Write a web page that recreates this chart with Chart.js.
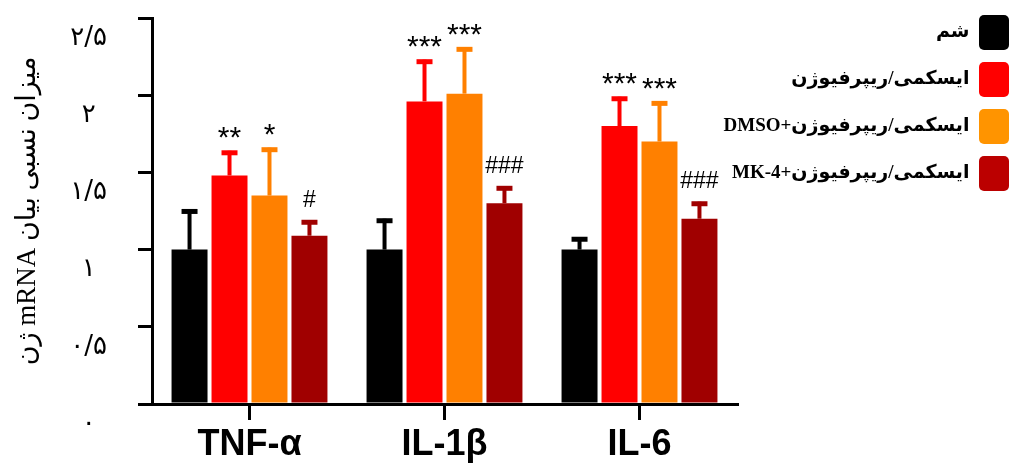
<!DOCTYPE html>
<html>
<head>
<meta charset="utf-8">
<script src="https://cdn.jsdelivr.net/npm/chart.js@4.4.0/dist/chart.umd.min.js"></script>
<style>
    body { margin: 0; background: #fff; }
    #wrap { width: 1011px; height: 466px; }
</style>
</head>
<body>
<div id="wrap"><canvas id="chart" dir="rtl"></canvas></div>
<script>
// ==================== DATA ====================
const categories = ['TNF-α', 'IL-1β', 'IL-6'];
const groupNames = ['شم', 'ایسکمی/ریپرفیوژن', 'ایسکمی/ریپرفیوژن+DMSO', 'ایسکمی/ریپرفیوژن+MK-4'];
const yTickLabels = ['۰', '۰/۵', '۱', '۱/۵', '۲', '۲/۵'];
const yTitle = 'میزان نسبی بیان mRNA ژن';

const shamMean = [1.00, 1.00, 1.00];
const shamSem  = [0.26, 0.20, 0.08];
const shamSig  = ['', '', ''];

const irMean = [1.48, 1.96, 1.80];
const irSem  = [0.16, 0.27, 0.19];
const irSig  = ['**', '***', '***'];

const dmsoMean = [1.35, 2.01, 1.70];
const dmsoSem  = [0.31, 0.30, 0.26];
const dmsoSig  = ['*', '***', '***'];

const mk4Mean = [1.09, 1.30, 1.20];
const mk4Sem  = [0.10, 0.11, 0.11];
const mk4Sig  = ['#', '###', '###'];

const colors = ['#000000', '#ff0000', '#ff8000', '#a00000'];
const legendColors = ['#000000', '#ff0000', '#ff9400', '#bb0000'];

// ==================== PLUGINS ====================
// error bars (upper only) + significance marks
const errorBars = {
    id: 'errorBars',
    afterDatasetsDraw(chart) {
        const ctx = chart.ctx;
        const yScale = chart.scales.y;
        chart.data.datasets.forEach((ds, i) => {
            chart.getDatasetMeta(i).data.forEach((bar, j) => {
                const top = yScale.getPixelForValue(ds.data[j] + ds.sem[j]);
                ctx.save();
                ctx.strokeStyle = ds.backgroundColor;
                ctx.lineWidth = 4;
                ctx.beginPath();
                ctx.moveTo(bar.x, bar.y);
                ctx.lineTo(bar.x, top);
                ctx.stroke();
                ctx.lineWidth = 5;
                ctx.beginPath();
                ctx.moveTo(bar.x - 8, top + 2);
                ctx.lineTo(bar.x + 8, top + 2);
                ctx.stroke();
                const s = ds.sig[j];
                if (s) {
                    const hash = s[0] === '#';
                    ctx.fillStyle = '#000';
                    ctx.font = hash ? '23px "Liberation Sans"' : '30px "Liberation Sans"';
                    ctx.textAlign = 'center';
                    ctx.textBaseline = 'middle';
                    ctx.fillText(s, bar.x, top - (hash ? 20 : 12));
                }
                ctx.restore();
            });
        });
    }
};

// legend sits a bit higher and wider than the layout gives it
const legendNudge = {
    id: 'legendNudge',
    afterLayout(chart) {
        const lg = chart.legend;
        lg.left = 710; lg.right = 1021; lg.width = lg.right - lg.left;
        lg.top -= 15; lg.bottom -= 15;
    }
};

const makeSet = (i, data, sem, sig) => ({
    label: groupNames[i],
    data: data,
    sem: sem,
    sig: sig,
    backgroundColor: colors[i],
    borderWidth: 0,
    barPercentage: 0.9,
    categoryPercentage: 0.82
});

// ==================== CHART ====================
new Chart(document.getElementById('chart'), {
    type: 'bar',
    data: {
        labels: categories,
        datasets: [
            makeSet(0, shamMean, shamSem, shamSig),
            makeSet(1, irMean, irSem, irSig),
            makeSet(2, dmsoMean, dmsoSem, dmsoSig),
            makeSet(3, mk4Mean, mk4Sem, mk4Sig)
        ]
    },
    options: {
        responsive: true,
        maintainAspectRatio: false,
        animation: false,
        layout: { padding: { top: 18, right: 0, bottom: 0, left: 0 } },
        plugins: {
            tooltip: { enabled: false },
            legend: {
                position: 'right',
                align: 'start',
                maxWidth: 274,
                rtl: true,
                textDirection: 'rtl',
                labels: {
                    color: '#000',
                    boxWidth: 30,
                    boxHeight: 35,
                    padding: 12,
                    useBorderRadius: true,
                    borderRadius: 5,
                    font: { family: '"Liberation Serif", "DejaVu Sans"', size: 19, weight: 'bold' },
                    generateLabels: (chart) =>
                        Chart.defaults.plugins.legend.labels.generateLabels(chart)
                            .map((l, i) => ({ ...l, fillStyle: legendColors[i] }))
                }
            }
        },
        scales: {
            x: {
                grid: { drawOnChartArea: false, offset: false, tickLength: 16, lineWidth: 3, color: '#000' },
                border: { display: true, width: 3, color: '#000' },
                ticks: {
                    color: '#000',
                    padding: 3,
                    font: { family: '"Liberation Sans", Arial', size: 36, weight: 'bold' }
                },
                afterFit: (scale) => { scale.height = 62; }
            },
            y: {
                min: 0,
                max: 2.5,
                grid: { drawOnChartArea: false, tickLength: 14, lineWidth: 3, color: '#000' },
                border: { display: true, width: 3, color: '#000' },
                ticks: {
                    stepSize: 0.5,
                    color: '#000',
                    crossAlign: 'center',
                    padding: 31,
                    labelOffset: 20,
                    font: { family: '"DejaVu Sans"', size: 26 },
                    callback: (v, i) => yTickLabels[i]
                },
                title: {
                    display: true,
                    text: yTitle,
                    color: '#000',
                    padding: { top: 12, bottom: 0 },
                    font: { family: '"Liberation Serif", "DejaVu Sans"', size: 27 }
                },
                afterFit: (scale) => {
                    scale.width = 152;
                    scale.paddingTop = 0;
                    scale.paddingBottom = 0;
                }
            }
        }
    },
    plugins: [errorBars, legendNudge]
});
</script>
</body>
</html>
